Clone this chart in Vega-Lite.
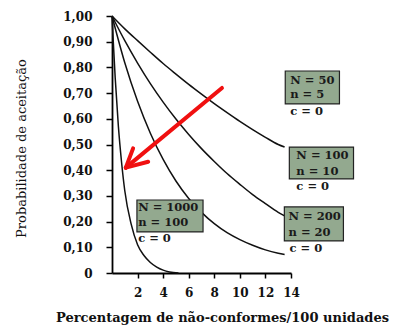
{
  "$schema": "https://vega.github.io/schema/vega-lite/v6.json",
  "width": 179,
  "height": 257,
  "autosize": "none",
  "padding": {"left": 112, "top": 16, "right": 102, "bottom": 57},
  "background": "white",
  "config": {"view": {"stroke": null}, "font": "DejaVu Serif"},
  "datasets": {
    "curves": [
      {"series": "N50", "p": 0, "pa": 1}, {"series": "N50", "p": 1, "pa": 0.95}, {"series": "N50", "p": 2, "pa": 0.904},
      {"series": "N50", "p": 3, "pa": 0.859}, {"series": "N50", "p": 4, "pa": 0.815}, {"series": "N50", "p": 5, "pa": 0.774},
      {"series": "N50", "p": 6, "pa": 0.734}, {"series": "N50", "p": 7, "pa": 0.696}, {"series": "N50", "p": 8, "pa": 0.659},
      {"series": "N50", "p": 9, "pa": 0.624}, {"series": "N50", "p": 10, "pa": 0.59}, {"series": "N50", "p": 11, "pa": 0.558},
      {"series": "N50", "p": 12, "pa": 0.528}, {"series": "N50", "p": 13, "pa": 0.5}, {"series": "N50", "p": 13.5, "pa": 0.49},
      {"series": "N100", "p": 0, "pa": 1}, {"series": "N100", "p": 1, "pa": 0.904}, {"series": "N100", "p": 2, "pa": 0.817},
      {"series": "N100", "p": 3, "pa": 0.737}, {"series": "N100", "p": 4, "pa": 0.665}, {"series": "N100", "p": 5, "pa": 0.599},
      {"series": "N100", "p": 6, "pa": 0.539}, {"series": "N100", "p": 7, "pa": 0.484}, {"series": "N100", "p": 8, "pa": 0.434},
      {"series": "N100", "p": 9, "pa": 0.387}, {"series": "N100", "p": 10, "pa": 0.345}, {"series": "N100", "p": 11, "pa": 0.305},
      {"series": "N100", "p": 12, "pa": 0.27}, {"series": "N100", "p": 13, "pa": 0.236}, {"series": "N100", "p": 13.5, "pa": 0.222},
      {"series": "N200", "p": 0, "pa": 1}, {"series": "N200", "p": 1, "pa": 0.818}, {"series": "N200", "p": 2, "pa": 0.668},
      {"series": "N200", "p": 3, "pa": 0.544}, {"series": "N200", "p": 4, "pa": 0.442}, {"series": "N200", "p": 5, "pa": 0.358},
      {"series": "N200", "p": 6, "pa": 0.29}, {"series": "N200", "p": 7, "pa": 0.236}, {"series": "N200", "p": 8, "pa": 0.192},
      {"series": "N200", "p": 9, "pa": 0.157}, {"series": "N200", "p": 10, "pa": 0.13}, {"series": "N200", "p": 11, "pa": 0.108},
      {"series": "N200", "p": 12, "pa": 0.09}, {"series": "N200", "p": 13, "pa": 0.077}, {"series": "N200", "p": 13.5, "pa": 0.072},
      {"series": "N1000", "p": 0, "pa": 1}, {"series": "N1000", "p": 0.1, "pa": 0.9}, {"series": "N1000", "p": 0.25, "pa": 0.76},
      {"series": "N1000", "p": 0.5, "pa": 0.57}, {"series": "N1000", "p": 0.75, "pa": 0.43}, {"series": "N1000", "p": 1, "pa": 0.32},
      {"series": "N1000", "p": 1.5, "pa": 0.19}, {"series": "N1000", "p": 2, "pa": 0.11}, {"series": "N1000", "p": 2.5, "pa": 0.068},
      {"series": "N1000", "p": 3, "pa": 0.041}, {"series": "N1000", "p": 3.5, "pa": 0.023}, {"series": "N1000", "p": 4, "pa": 0.011},
      {"series": "N1000", "p": 4.5, "pa": 0.004}, {"series": "N1000", "p": 5.2, "pa": 0}
    ],
    "boxes": [
      {"x": 13.55, "x2": 17.79, "y": 0.786, "y2": 0.658},
      {"x": 13.87, "x2": 18.89, "y": 0.49, "y2": 0.366},
      {"x": 13.48, "x2": 18.1, "y": 0.257, "y2": 0.125},
      {"x": 1.95, "x2": 7.12, "y": 0.284, "y2": 0.16}
    ],
    "texts": [
      {"x": 13.94, "y": 0.747, "t": "N = 50"},
      {"x": 13.94, "y": 0.693, "t": "n  = 5"},
      {"x": 13.94, "y": 0.626, "t": "c  = 0"},
      {"x": 14.42, "y": 0.456, "t": "N = 100"},
      {"x": 14.42, "y": 0.394, "t": "n  = 10"},
      {"x": 14.42, "y": 0.336, "t": "c  = 0"},
      {"x": 13.81, "y": 0.217, "t": "N = 200"},
      {"x": 13.81, "y": 0.154, "t": "n  = 20"},
      {"x": 13.89, "y": 0.092, "t": "c  = 0"},
      {"x": 2.05, "y": 0.252, "t": "N = 1000"},
      {"x": 2.05, "y": 0.193, "t": "n  = 100"},
      {"x": 2.05, "y": 0.132, "t": "c  = 0"}
    ],
    "arrow": [
      {"x": 8.6, "y": 0.72, "x2": 1.08, "y2": 0.41},
      {"x": 1.65, "y": 0.485, "x2": 1.08, "y2": 0.41},
      {"x": 2.83, "y": 0.433, "x2": 1.08, "y2": 0.41}
    ]
  },
  "layer": [
    {
      "data": {"name": "curves"},
      "mark": {"type": "line", "interpolate": "monotone", "color": "#111111", "strokeWidth": 1.5},
      "encoding": {
        "x": {
          "field": "p", "type": "quantitative",
          "scale": {"domain": [0, 14], "nice": false, "zero": false},
          "axis": {
            "values": [2, 4, 6, 8, 10, 12, 14],
            "tickCount": 30,
            "format": "d",
            "labelOverlap": false,
            "labelFlush": false,
            "grid": false,
            "domainColor": "#000000", "domainWidth": 1.8,
            "tickColor": "#000000", "tickWidth": 1.5, "tickSize": 5,
            "labelFont": "DejaVu Serif", "labelFontSize": 12, "labelFontWeight": "bold", "labelColor": "#111111",
            "labelPadding": 9,
            "title": "Percentagem de não-conformes/100 unidades",
            "titleFont": "DejaVu Serif", "titleFontSize": 13, "titleFontWeight": "bold", "titleColor": "#111111",
            "titleX": 110, "titleY": 48, "titleAlign": "center", "titleBaseline": "alphabetic", "titleAnchor": null
          }
        },
        "y": {
          "field": "pa", "type": "quantitative",
          "scale": {"domain": [0, 1], "nice": false},
          "axis": {
            "values": [0, 0.1, 0.2, 0.3, 0.4, 0.5, 0.6, 0.7, 0.8, 0.9, 1.0],
            "tickCount": 30,
            "labelExpr": "datum.value == 0 ? '0' : replace(format(datum.value, '.2f'), '.', ',')",
            "labelOverlap": false,
            "labelFlush": false,
            "grid": false,
            "domainColor": "#000000", "domainWidth": 1.8,
            "tickColor": "#000000", "tickWidth": 1.5, "tickSize": 6,
            "labelFont": "DejaVu Serif", "labelFontSize": 12, "labelFontWeight": "bold", "labelColor": "#111111",
            "labelPadding": 14,
            "title": "Probabilidade de aceitação",
            "titleFont": "DejaVu Serif", "titleFontSize": 13, "titleFontWeight": "normal", "titleColor": "#111111",
            "titleAngle": -90, "titleX": -91, "titleY": 132, "titleAlign": "center", "titleBaseline": "middle", "titleAnchor": null
          }
        },
        "detail": {"field": "series", "type": "nominal"}
      }
    },
    {
      "data": {"name": "boxes"},
      "mark": {"type": "rect", "fill": "#93a98f", "stroke": "#222222", "strokeWidth": 1.2},
      "encoding": {
        "x": {"field": "x", "type": "quantitative"},
        "x2": {"field": "x2"},
        "y": {"field": "y", "type": "quantitative"},
        "y2": {"field": "y2"}
      }
    },
    {
      "data": {"name": "texts"},
      "mark": {"type": "text", "align": "left", "baseline": "middle", "font": "DejaVu Serif", "fontSize": 11.5, "fontWeight": "bold", "color": "#1a1a1a"},
      "encoding": {
        "x": {"field": "x", "type": "quantitative"},
        "y": {"field": "y", "type": "quantitative"},
        "text": {"field": "t", "type": "nominal"}
      }
    },
    {
      "data": {"name": "arrow"},
      "mark": {"type": "rule", "color": "#f01010", "strokeWidth": 4, "strokeCap": "round"},
      "encoding": {
        "x": {"field": "x", "type": "quantitative"},
        "x2": {"field": "x2"},
        "y": {"field": "y", "type": "quantitative"},
        "y2": {"field": "y2"}
      }
    }
  ]
}
